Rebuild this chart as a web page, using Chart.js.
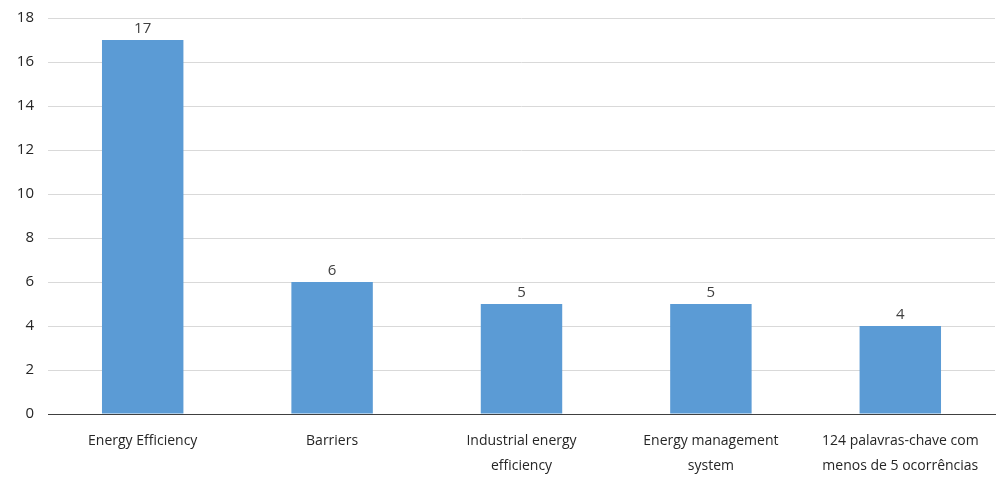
<!DOCTYPE html>
<html>
<head>
<meta charset="utf-8">
<script src="https://cdn.jsdelivr.net/npm/chart.js@4"></script>
<style>
  html, body { margin: 0; padding: 0; background: #fff; }
  #wrap { width: 999px; height: 477px; position: relative; }
</style>
</head>
<body>
<div id="wrap"><canvas id="chart"></canvas></div>
<script>
// DONNÉES
const categories = [
    'Energy Efficiency',
    'Barriers',
    ['Industrial energy', 'efficiency'],
    ['Energy management', 'system'],
    ['124 palavras-chave com', 'menos de 5 ocorrências']
];
const occurrences = [17, 6, 5, 5, 4];
const yTicks = [0, 2, 4, 6, 8, 10, 12, 14, 16, 18];

const fontFamily = "'Open Sans', 'Liberation Sans', sans-serif";

// étiquettes au-dessus des barres
const valueLabels = {
    id: 'valueLabels',
    afterDatasetsDraw(chart) {
        const ctx = chart.ctx;
        const meta = chart.getDatasetMeta(0);
        ctx.save();
        ctx.font = '15px ' + fontFamily;
        ctx.fillStyle = '#404040';
        ctx.textAlign = 'center';
        ctx.textBaseline = 'bottom';
        meta.data.forEach((bar, i) => {
            ctx.fillText(occurrences[i], bar.x, bar.y - 4);
        });
        ctx.restore();
    }
};

const ctx = document.getElementById('chart').getContext('2d');
new Chart(ctx, {
    type: 'bar',
    data: {
        labels: categories,
        datasets: [{
            data: occurrences,
            backgroundColor: '#5B9BD5',
            borderWidth: 0,
            barPercentage: 0.43,
            categoryPercentage: 1
        }]
    },
    options: {
        responsive: true,
        maintainAspectRatio: false,
        animation: false,
        layout: { padding: { top: 18, right: 4, left: 0, bottom: 0 } },
        plugins: { legend: { display: false }, tooltip: { enabled: false } },
        scales: {
            x: {
                grid: { display: false, drawTicks: false },
                border: { color: '#404040', width: 1 },
                afterFit: axis => { axis.height = 63; },
                ticks: {
                    color: '#262626',
                    font: { family: fontFamily, size: 14, lineHeight: 1.75 },
                    padding: 15,
                    maxRotation: 0,
                    autoSkip: false
                }
            },
            y: {
                min: 0,
                max: 18,
                afterBuildTicks: axis => { axis.ticks = yTicks.map(v => ({ value: v })); },
                afterFit: axis => {
                    axis.width = 48;
                    axis.paddingTop = 0;
                    axis.paddingBottom = 0;
                },
                grid: { color: '#D9D9D9', drawTicks: false },
                border: { display: false },
                ticks: {
                    color: '#262626',
                    font: { family: fontFamily, size: 15 },
                    padding: 14
                }
            }
        }
    },
    plugins: [valueLabels]
});
</script>
</body>
</html>
